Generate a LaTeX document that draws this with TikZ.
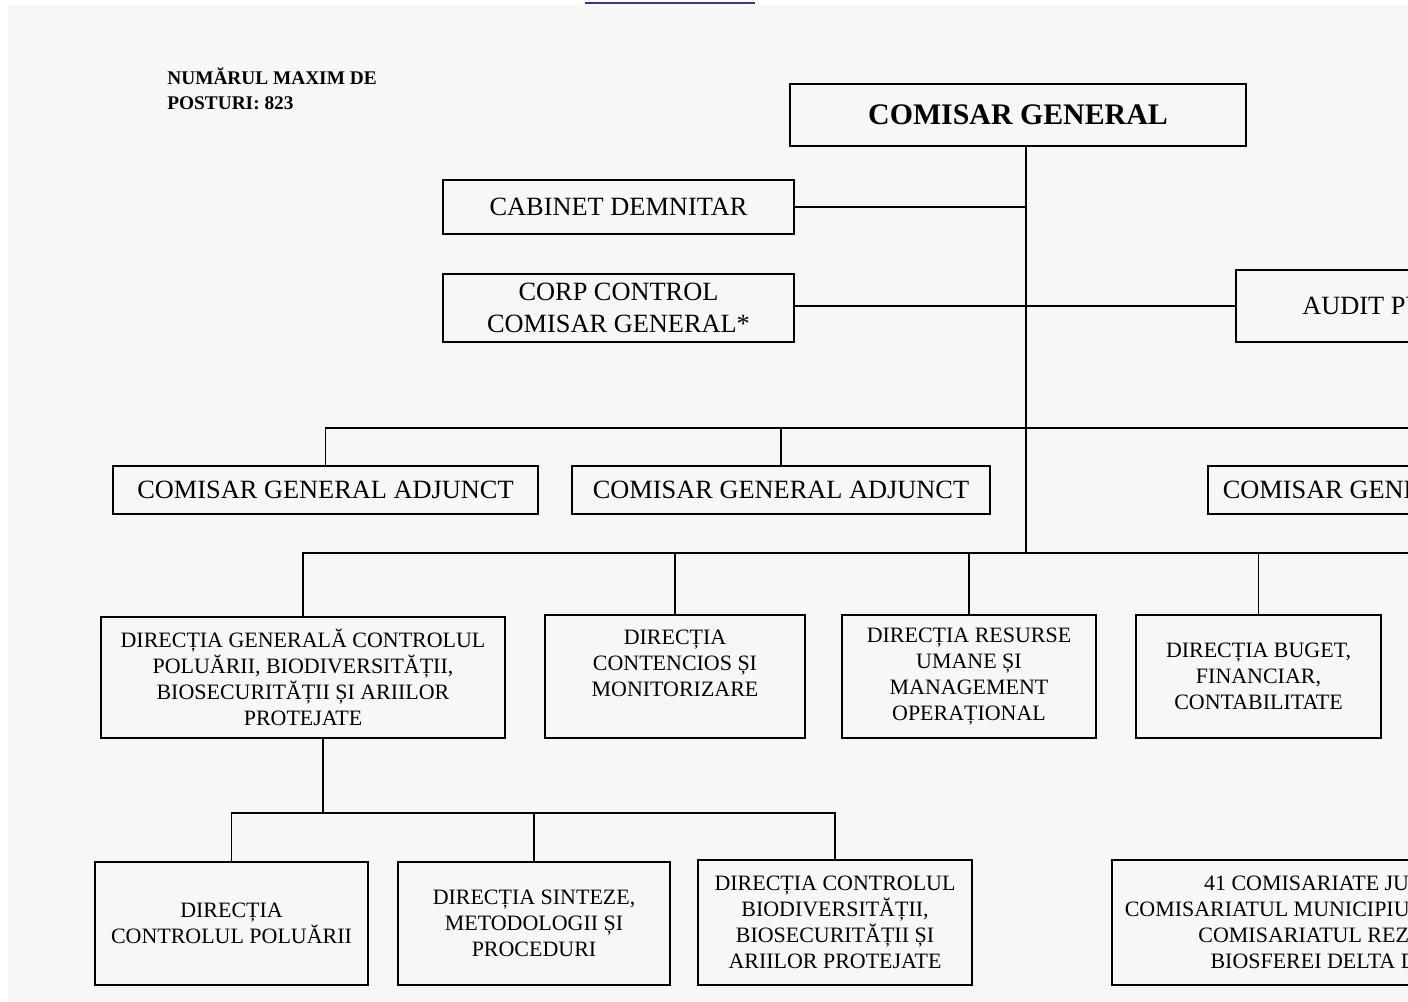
\documentclass[tikz,border=0pt]{standalone}
\usepackage{fontspec}
\setmainfont{Liberation Serif}
\usepackage{xcolor}
\usepackage{tikz}
\usetikzlibrary{positioning}
\definecolor{pagegray}{HTML}{F7F7F7}
\definecolor{linkblue}{HTML}{333399}
\tikzstyle{box} = [draw, line width=1.1pt, align=center, inner sep=0pt, font=\fontsize{12.5}{14.8}\selectfont]
\tikzstyle{topbox} = [box, font=\fontsize{15}{18.2}\selectfont]
\tikzstyle{link} = [line width=0.9pt]

\begin{document}
\begin{tikzpicture}[x=0.02cm, y=-0.02cm]
  \useasboundingbox (0,0) rectangle (1408,1001);
  \clip (0,0) rectangle (1408,1001);
  \fill[pagegray] (8,5) rectangle (1408,1001);
  \draw[linkblue, line width=1.2pt] (585,3) -- (755,3);

  \node[anchor=north west, inner sep=0pt, align=left, font=\bfseries\fontsize{11}{14.2}\selectfont] (posturi) at (167,67) {NUMĂRUL MAXIM DE\\POSTURI: 823};

  % conducere
  \node[topbox, minimum width=9.12cm, minimum height=1.24cm, font=\bfseries\fontsize{17}{20}\selectfont] (cg) at (1018,115) {COMISAR GENERAL};
  \node[topbox, minimum width=7.02cm, minimum height=1.08cm] (cabinet) at (618.5,207) {CABINET DEMNITAR};
  \node[topbox, minimum width=7.02cm, minimum height=1.36cm] (corp) at (618.5,308) {CORP CONTROL\\COMISAR GENERAL*};
  \node[topbox, minimum width=8.36cm, minimum height=1.44cm] (audit) at (1445,306) {AUDIT PUBLIC INTERN};

  \node[topbox, minimum width=8.5cm, minimum height=0.96cm] (adj1) at (325.5,490) {COMISAR GENERAL ADJUNCT};
  \node[topbox, minimum width=8.36cm, minimum height=0.96cm] (adj2) at (781,490) {COMISAR GENERAL ADJUNCT};
  \node[topbox, minimum width=8.12cm, minimum height=0.96cm] (adj3) at (1411,490) {COMISAR GENERAL ADJUNCT};

  % directii
  \node[box, minimum width=8.08cm, minimum height=2.42cm] (dgcp) at (303,677.5) {DIRECȚIA GENERALĂ CONTROLUL\\POLUĂRII, BIODIVERSITĂȚII,\\BIOSECURITĂȚII ȘI ARIILOR\\PROTEJATE};
  \node[box, minimum width=5.2cm, minimum height=2.46cm] (contencios) at (675,676.5) {DIRECȚIA\\CONTENCIOS ȘI\\MONITORIZARE\\\mbox{}};
  \node[box, minimum width=5.08cm, minimum height=2.46cm] (resurse) at (969,676.5) {DIRECȚIA RESURSE\\UMANE ȘI\\MANAGEMENT\\OPERAȚIONAL};
  \node[box, minimum width=4.9cm, minimum height=2.46cm] (buget) at (1258.5,676.5) {DIRECȚIA BUGET,\\FINANCIAR,\\CONTABILITATE};

  \node[box, minimum width=5.46cm, minimum height=2.46cm] (poluare) at (231.5,923.5) {DIRECȚIA\\CONTROLUL POLUĂRII};
  \node[box, minimum width=5.44cm, minimum height=2.46cm] (sinteze) at (534,923.5) {DIRECȚIA SINTEZE,\\METODOLOGII ȘI\\PROCEDURI};
  \node[box, minimum width=5.48cm, minimum height=2.5cm] (biodiv) at (835,922.5) {DIRECȚIA CONTROLUL\\BIODIVERSITĂȚII,\\BIOSECURITĂȚII ȘI\\ARIILOR PROTEJATE};
  \node[box, minimum width=9.6cm, minimum height=2.5cm] (judete) at (1352,922.5) {41 COMISARIATE JUDEȚENE,\\COMISARIATUL MUNICIPIULUI BUCUREȘTI,\\COMISARIATUL REZERVAȚIEI\\BIOSFEREI DELTA DUNĂRII};

  % legaturi
  \coordinate (trunk) at (1026,553);
  \coordinate (adjbar) at (0,428);
  \coordinate (dirend) at (1420,553);
  \coordinate (subbar) at (323,813);
  \draw[link] (cg.south -| trunk) -- (trunk);
  \draw[link] (cabinet.east) -- (cabinet.east -| trunk);
  \draw[link] (corp.east |- audit.west) -- (audit.west);
  \draw[link] (trunk |- adjbar) -- (adj1.north |- adjbar) -- (adj1.north);
  \draw[link] (trunk |- adjbar) -- (adj3.north |- adjbar) -- (adj3.north);
  \draw[link] (adj2.north |- adjbar) -- (adj2.north);
  \draw[link] (dgcp.north) -- (dgcp.north |- trunk) -- (dirend);
  \draw[link] (contencios.north |- trunk) -- (contencios.north);
  \draw[link] (resurse.north |- trunk) -- (resurse.north);
  \draw[link] (buget.north |- trunk) -- (buget.north);
  \draw[link] (subbar |- dgcp.south) -- (subbar);
  \draw[link] (poluare.north) -- (poluare.north |- subbar) -- (biodiv.north |- subbar) -- (biodiv.north);
  \draw[link] (sinteze.north |- subbar) -- (sinteze.north);
\end{tikzpicture}
\end{document}
